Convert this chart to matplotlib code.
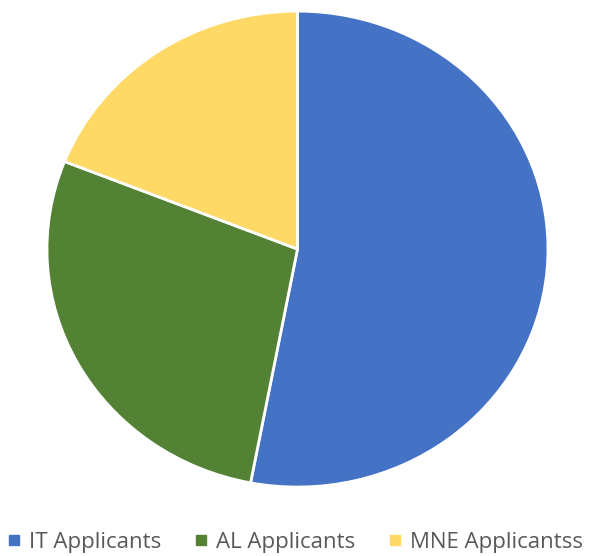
import matplotlib.pyplot as plt
from matplotlib.lines import Line2D

labels = ["IT Applicants", "AL Applicants", "MNE Applicantss"]
values = [53, 28, 19]
colors = ["#4472C4", "#548235", "#FFD966"]

plt.rcParams['font.family'] = ['Open Sans', 'DejaVu Sans']

fig = plt.figure(figsize=(6, 5.56), dpi=100)
ax = fig.add_axes([0.0783, 0.124, 0.835, 0.856])

ax.pie(values, colors=colors, startangle=90, counterclock=False,
       wedgeprops=dict(edgecolor="white", linewidth=2), radius=1)
ax.set_aspect('auto')
ax.set_xlim(-1, 1)
ax.set_ylim(-1, 1)
ax.axis('off')

handles = [Line2D([], [], marker='s', linestyle='', markersize=6.5,
                  markerfacecolor=c, markeredgecolor=c) for c in colors]
fig.legend(handles, labels, loc='center', bbox_to_anchor=(0.4925, 0.024),
           ncol=3, frameon=False, fontsize=16, labelcolor='#595959',
           handlelength=0.55, handletextpad=0.4, columnspacing=1.5)

fig.savefig("out.png", dpi=100)
